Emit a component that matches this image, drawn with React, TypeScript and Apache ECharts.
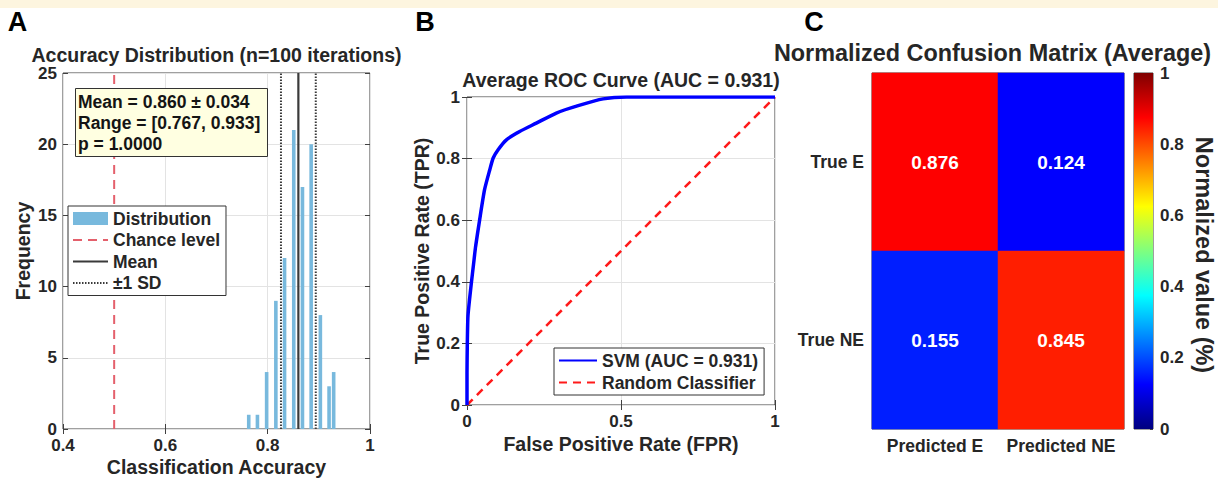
import React, { useEffect, useRef } from 'react';
import * as echarts from 'echarts';

// ---------- Panel A: accuracy histogram ----------
const histCenters = [0.763, 0.780, 0.798, 0.816, 0.833, 0.851, 0.868, 0.885, 0.903, 0.920, 0.929];
const histCounts = [1, 1, 4, 9, 12, 21, 17, 20, 8, 3, 4];
const chanceLevel = 0.5;
const meanAcc = 0.86;
const sdAcc = 0.034;
const accRange = [0.767, 0.933];
const pValue = '1.0000';
const histXTicks = { min: 0.4, max: 1, interval: 0.2 };
const histYTicks = { min: 0, max: 25, interval: 5 };

// ---------- Panel B: ROC ----------
const rocFPR = [0, 0.0, 0.001, 0.003, 0.008, 0.014, 0.021, 0.028, 0.041, 0.057, 0.074, 0.085, 0.101, 0.128, 0.171, 0.225, 0.29, 0.361, 0.442, 0.518, 0.6, 0.8, 1.0];
const rocTPR = [0, 0.103, 0.2, 0.287, 0.34, 0.395, 0.455, 0.515, 0.601, 0.699, 0.764, 0.802, 0.829, 0.861, 0.888, 0.915, 0.948, 0.972, 0.994, 1.0, 1.0, 1.0, 1.0];
const aucValue = 0.931;

// ---------- Panel C: confusion matrix ----------
const cmRows = ['True E', 'True NE'];
const cmCols = ['Predicted E', 'Predicted NE'];
const cmValues = [
  [0.876, 0.124],
  [0.155, 0.845],
];
const jetColors = ['#00007f', '#0000ff', '#007fff', '#00ffff', '#7fff7f', '#ffff00', '#ff7f00', '#ff0000', '#7f0000'];

const FONT = "'Liberation Sans', Arial, Helvetica, sans-serif";
const TXT = '#262626';
const AX = '#404040';

const fmt = (v: number) => String(Math.round(v * 100) / 100);

function valAxis(gridIndex: number, r: { min: number; max: number; interval: number }, position: string, main: boolean, margin = 7) {
  return {
    type: 'value',
    gridIndex,
    position,
    min: r.min,
    max: r.max,
    interval: r.interval,
    axisLine: { show: false },
    axisTick: { show: true, inside: true, length: 5, lineStyle: { color: AX, width: 1 } },
    axisLabel: main
      ? { show: true, formatter: fmt, color: TXT, fontSize: 17, fontWeight: 'bold', fontFamily: FONT, margin }
      : { show: false },
    splitLine: main ? { show: true, lineStyle: { color: '#e3e3e3', width: 1 } } : { show: false },
  };
}

function gtext(text: string, x: number, y: number, size: number, rotation = 0, color = TXT) {
  return {
    type: 'text',
    x,
    y,
    rotation,
    z: 100,
    style: {
      text,
      fill: color,
      font: `bold ${size}px ${FONT}`,
      textAlign: 'center',
      textVerticalAlign: 'middle',
    },
  };
}

export default function App() {
  const ref = useRef<HTMLDivElement>(null);

  useEffect(() => {
    if (!ref.current) return;
    const chart = echarts.init(ref.current, undefined, { renderer: 'svg' });

    const lineYMax = histYTicks.max;
    const heatData: any[] = [];
    cmValues.forEach((row, ri) => row.forEach((v, ci) => heatData.push([ci, ri, v])));

    const grids = [
      { left: 63, top: 73, width: 307, height: 356 },
      { left: 467, top: 97, width: 308, height: 308 },
      { left: 872, top: 73, width: 252, height: 356 },
      { left: 1134, top: 73, width: 19, height: 356 },
    ].map((g) => ({ ...g, show: true, borderColor: AX, borderWidth: 1, backgroundColor: 'transparent' }));

    const legendText = { fontSize: 17.5, fontWeight: 'bold', color: TXT, fontFamily: FONT, lineHeight: 21 };

    const option: any = {
      animation: false,
      backgroundColor: '#ffffff',
      textStyle: { fontFamily: FONT },
      grid: grids,
      title: [
        {
          text: `Mean = ${meanAcc.toFixed(3)} ± ${sdAcc.toFixed(3)}\nRange = [${accRange[0].toFixed(3)}, ${accRange[1].toFixed(3)}]\np = ${pValue}`,
          left: 75,
          top: 88,
          backgroundColor: '#ffffe1',
          borderColor: '#333333',
          borderWidth: 1,
          padding: [3, 7, 3, 3],
          textStyle: { fontSize: 17.5, fontWeight: 'bold', color: '#141414', fontFamily: FONT, lineHeight: 21 },
        },
      ],
      legend: [
        {
          left: 68,
          top: 206,
          orient: 'vertical',
          selectedMode: false,
          data: [
            { name: 'Distribution', icon: 'rect', itemStyle: { opacity: 1 } },
            'Chance level',
            'Mean',
            '±1 SD',
          ],
          itemWidth: 35,
          itemHeight: 13,
          itemGap: 0.5,
          itemStyle: { opacity: 0 },
          padding: [2, 6, 2, 4],
          borderColor: '#333333',
          borderWidth: 1,
          backgroundColor: '#ffffff',
          textStyle: legendText,
        },
        {
          left: 554,
          top: 348,
          orient: 'vertical',
          selectedMode: false,
          data: [`SVM (AUC = ${aucValue.toFixed(3)})`, 'Random Classifier'],
          itemWidth: 38,
          itemHeight: 13,
          itemGap: 1,
          itemStyle: { opacity: 0 },
          padding: [2, 6, 2, 4],
          borderColor: '#333333',
          borderWidth: 1,
          backgroundColor: '#ffffff',
          textStyle: legendText,
        },
      ],
      visualMap: [
        {
          show: false,
          type: 'continuous',
          min: 0,
          max: 1,
          dimension: 2,
          seriesIndex: 7,
          inRange: { color: jetColors },
        },
      ],
      xAxis: [
        valAxis(0, histXTicks, 'bottom', true, 8),
        valAxis(0, histXTicks, 'top', false),
        valAxis(1, { min: 0, max: 1, interval: 0.5 }, 'bottom', true, 8),
        valAxis(1, { min: 0, max: 1, interval: 0.5 }, 'top', false),
        {
          type: 'category',
          gridIndex: 2,
          data: cmCols,
          position: 'bottom',
          axisLine: { show: false },
          axisTick: { show: true, inside: true, alignWithLabel: true, length: 4, lineStyle: { color: AX } },
          axisLabel: { interval: 0, color: TXT, fontSize: 17.5, fontWeight: 'bold', fontFamily: FONT, margin: 8 },
          splitLine: { show: false },
          splitArea: { show: false },
        },
        {
          type: 'category',
          gridIndex: 3,
          data: ['cb'],
          show: false,
        },
      ],
      yAxis: [
        valAxis(0, histYTicks, 'left', true, 6),
        valAxis(0, histYTicks, 'right', false),
        valAxis(1, { min: 0, max: 1, interval: 0.2 }, 'left', true, 7),
        valAxis(1, { min: 0, max: 1, interval: 0.2 }, 'right', false),
        {
          type: 'category',
          gridIndex: 2,
          data: cmRows,
          inverse: true,
          axisLine: { show: false },
          axisTick: { show: true, inside: true, alignWithLabel: true, length: 4, lineStyle: { color: AX } },
          axisLabel: { interval: 0, color: TXT, fontSize: 17.5, fontWeight: 'bold', fontFamily: FONT, margin: 8 },
          splitLine: { show: false },
          splitArea: { show: false },
        },
        {
          type: 'value',
          gridIndex: 3,
          position: 'right',
          min: 0,
          max: 1,
          interval: 0.2,
          axisLine: { show: false },
          axisTick: { show: true, inside: true, length: 3, lineStyle: { color: AX } },
          axisLabel: { formatter: fmt, color: TXT, fontSize: 17, fontWeight: 'bold', fontFamily: FONT, margin: 7 },
          splitLine: { show: false },
        },
      ],
      series: [
        {
          name: 'Distribution',
          type: 'bar',
          xAxisIndex: 0,
          yAxisIndex: 0,
          barWidth: 3.6,
          itemStyle: { color: '#78b9dd' },
          data: histCenters.map((x, i) => [x, histCounts[i]]),
          z: 2,
        },
        {
          name: 'Chance level',
          type: 'line',
          xAxisIndex: 0,
          yAxisIndex: 0,
          symbol: 'none',
          itemStyle: { color: '#e4606c' },
          lineStyle: { color: '#e4606c', width: 2, type: [9, 6] },
          data: [[chanceLevel, 0], [chanceLevel, lineYMax]],
          z: 3,
        },
        {
          name: 'Mean',
          type: 'line',
          xAxisIndex: 0,
          yAxisIndex: 0,
          symbol: 'none',
          itemStyle: { color: '#3a3a3a' },
          lineStyle: { color: '#3a3a3a', width: 2.2 },
          data: [[meanAcc, 0], [meanAcc, lineYMax]],
          z: 4,
        },
        {
          name: '±1 SD',
          type: 'line',
          xAxisIndex: 0,
          yAxisIndex: 0,
          symbol: 'none',
          itemStyle: { color: '#3a3a3a' },
          lineStyle: { color: '#3a3a3a', width: 2, type: [1.5, 1.5] },
          data: [[meanAcc - sdAcc, 0], [meanAcc - sdAcc, lineYMax]],
          z: 4,
        },
        {
          name: '±1 SD',
          type: 'line',
          xAxisIndex: 0,
          yAxisIndex: 0,
          symbol: 'none',
          itemStyle: { color: '#3a3a3a' },
          lineStyle: { color: '#3a3a3a', width: 2, type: [1.5, 1.5] },
          data: [[meanAcc + sdAcc, 0], [meanAcc + sdAcc, lineYMax]],
          z: 4,
        },
        {
          name: `SVM (AUC = ${aucValue.toFixed(3)})`,
          type: 'line',
          xAxisIndex: 2,
          yAxisIndex: 2,
          symbol: 'none',
          smooth: 0.2,
          itemStyle: { color: '#0000ff' },
          lineStyle: { color: '#0000ff', width: 3.5 },
          data: rocFPR.map((x, i) => [x, rocTPR[i]]),
          z: 4,
        },
        {
          name: 'Random Classifier',
          type: 'line',
          xAxisIndex: 2,
          yAxisIndex: 2,
          symbol: 'none',
          itemStyle: { color: '#ff1a1a' },
          lineStyle: { color: '#ff1a1a', width: 2.5, type: [8, 6] },
          data: [[0, 0], [1, 1]],
          z: 3,
        },
        {
          name: 'Confusion',
          type: 'heatmap',
          xAxisIndex: 4,
          yAxisIndex: 4,
          data: heatData,
          label: {
            show: true,
            color: '#ffffff',
            fontSize: 19,
            fontWeight: 'bold',
            fontFamily: FONT,
            formatter: (p: any) => Number(p.value[2]).toFixed(3),
          },
          itemStyle: { borderWidth: 0 },
          emphasis: { disabled: true },
        },
        {
          name: 'Colorbar',
          type: 'bar',
          xAxisIndex: 5,
          yAxisIndex: 5,
          barWidth: '100%',
          data: [1],
          itemStyle: {
            color: new echarts.graphic.LinearGradient(
              0, 1, 0, 0,
              jetColors.map((c, i) => ({ offset: i / (jetColors.length - 1), color: c }))
            ),
          },
        },
      ],
      graphic: [
        { type: 'rect', shape: { x: 0, y: 0, width: 1218, height: 8 }, style: { fill: '#fdf5df' }, z: 0 },
        gtext('A', 17.5, 22, 27, 0, '#000000'),
        gtext('B', 425, 22, 27, 0, '#000000'),
        gtext('C', 814, 22, 27, 0, '#000000'),
        gtext('Accuracy Distribution (n=100 iterations)', 216.5, 54.5, 19.5),
        gtext('Classification Accuracy', 216.5, 467, 19.5),
        gtext('Frequency', 23, 251, 19.5, Math.PI / 2),
        gtext(`Average ROC Curve (AUC = ${aucValue.toFixed(3)})`, 621, 79.5, 19.5),
        gtext('False Positive Rate (FPR)', 621, 444, 19.5),
        gtext('True Positive Rate (TPR)', 422, 251, 19.5, Math.PI / 2),
        gtext('Normalized Confusion Matrix (Average)', 992.5, 52.5, 23.4),
        gtext('Normalized value (%)', 1204, 255, 23.5, -Math.PI / 2),
      ],
    };

    chart.setOption(option);
    return () => chart.dispose();
  }, []);

  return <div ref={ref} style={{ position: 'fixed', left: 0, top: 0, width: 1218, height: 478 }} />;
}
